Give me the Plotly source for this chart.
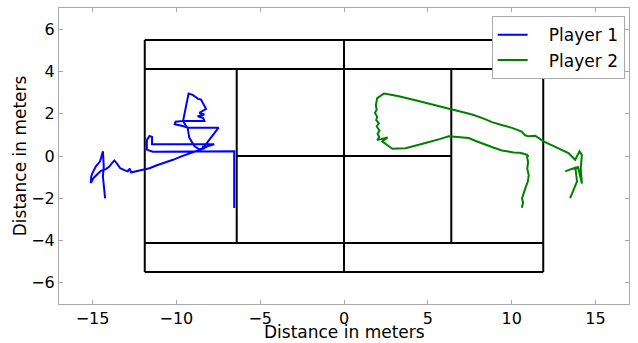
import plotly.graph_objects as go

# Court dimensions (metres)
half_length = 11.885
half_doubles = 5.485
half_singles = 4.115
service_x = 6.4

# Player 1 trajectory
p1_x = [-14.25, -14.3, -14.38, -14.33, -14.38, -14.55, -14.8, -15.0, -15.08, -15.1,
        -14.95, -14.7, -14.5, -14.2, -14.0, -13.85, -13.7, -13.55, -13.35, -13.1,
        -12.9, -12.78, -12.7, -12.4, -12.0, -11.6, -11.2, -10.7, -10.2, -9.7,
        -9.2, -8.8, -8.5, -8.3, -8.45, -8.2, -8.6,
        -8.63, -8.93, -9.23, -9.33, -9.62, -10.1, -10.05, -9.6,
        -9.45, -9.27, -9.03, -8.7, -8.53, -8.39, -8.23, -8.63, -8.33, -8.73, -8.4, -8.33,
        -9.6, -9.4, -9.33, -7.48, -7.94, -8.23, -8.4, -8.0, -7.74,
        -11.45, -11.45, -11.6, -11.76, -11.76, -11.41, -6.55, -6.55]
p1_y = [-2.0, -1.4, -0.97, -0.5, 0.22, -0.25, -0.49, -0.8, -0.97, -1.28,
        -1.05, -0.85, -0.7, -0.62, -0.5, -0.35, -0.21, -0.35, -0.58, -0.67,
        -0.72, -0.6, -0.78, -0.72, -0.65, -0.58, -0.45, -0.33, -0.18, -0.02,
        0.12, 0.22, 0.3, 0.38, 0.45, 0.42, 0.32,
        0.32, 0.47, 0.87, 1.34, 1.42, 1.5, 1.62, 1.66,
        2.3, 2.95, 2.89, 2.7, 2.67, 2.48, 2.23, 2.04, 1.96, 1.88, 1.8, 1.66,
        1.66, 1.4, 1.34, 1.34, 0.87, 0.55, 0.38, 0.5, 0.55,
        0.55, 0.9, 0.95, 0.75, 0.3, 0.2, 0.22, -2.46]

# Player 2 trajectory
p2_x = [10.61, 10.68, 10.62, 10.71, 10.85, 10.97, 11.02, 10.93, 10.98, 10.92, 10.98,
        10.91, 10.5, 10.12, 9.8, 9.42, 8.9, 8.43, 7.9, 7.44, 6.9, 6.55, 6.25, 5.7,
        5.26, 4.8, 4.46, 4.0, 3.67, 3.2, 2.88, 2.68, 2.4, 2.28, 2.6, 1.98, 2.1,
        2.0, 2.12, 1.95, 2.08, 1.92, 1.98, 1.85, 1.95, 1.9, 1.98, 2.2, 2.38, 2.8,
        3.27, 4.2, 5.06, 5.7, 6.35, 7.0, 7.64, 8.3, 8.83, 9.4, 10.02, 10.6, 10.8,
        11.01, 11.41, 11.9, 12.2, 12.5, 13.0, 13.39, 13.79, 14.05, 14.19, 14.12,
        14.19, 14.1, 13.95, 13.85, 13.6, 13.2, 13.5, 13.8, 13.9, 13.7, 13.49]
p2_y = [-2.45, -2.2, -2.0, -1.75, -1.45, -1.2, -0.9, -0.6, -0.3, -0.05, 0.0,
        0.06, 0.15, 0.17, 0.2, 0.26, 0.4, 0.53, 0.7, 0.85, 0.88, 0.9, 0.93, 0.8,
        0.72, 0.6, 0.53, 0.45, 0.37, 0.36, 0.34, 0.46, 0.6, 0.69, 0.88, 0.75, 0.9,
        1.05, 1.2, 1.41, 1.55, 1.7, 1.85, 2.04, 2.2, 2.4, 2.74, 2.88, 2.95, 2.9,
        2.83, 2.65, 2.48, 2.35, 2.19, 2.08, 1.96, 1.78, 1.6, 1.47, 1.33, 1.15, 0.98,
        0.93, 0.96, 0.69, 0.58, 0.46, 0.3, 0.14, -0.18, 0.22, 0.05, -0.6,
        -1.3, -1.0, -0.5, -0.6, -0.6, -0.73, -0.65, -0.55, -1.2, -1.6, -1.99]

x_ticks = [-15, -10, -5, 0, 5, 10, 15]
y_ticks = [-6, -4, -2, 0, 2, 4, 6]
axis_title = "Distance in meters"
names = ["Player 1", "Player 2"]

# Build court line segments from the dimensions
L, D, S, V = half_length, half_doubles, half_singles, service_x
segments = [
    ((-L, -D), (L, -D)), ((L, -D), (L, D)), ((L, D), (-L, D)), ((-L, D), (-L, -D)),
    ((-L, -S), (L, -S)), ((-L, S), (L, S)),
    ((-V, -S), (-V, S)), ((V, -S), (V, S)),
    ((-V, 0), (V, 0)),
    ((0, -D), (0, D)),
]
cx, cy = [], []
for (a, b) in segments:
    cx += [a[0], b[0], None]
    cy += [a[1], b[1], None]

pad = "\u00a0\u00a0\u00a0"
fig = go.Figure()
fig.add_trace(go.Scatter(x=cx, y=cy, mode="lines", line=dict(color="black", width=2),
                         showlegend=False, hoverinfo="skip"))
fig.add_trace(go.Scatter(x=p1_x, y=p1_y, mode="lines", name=pad + names[0],
                         line=dict(color="#0000ff", width=2)))
fig.add_trace(go.Scatter(x=p2_x, y=p2_y, mode="lines", name=pad + names[1],
                         line=dict(color="#008000", width=2)))

axis_common = dict(showgrid=False, zeroline=False, showline=True, linecolor="#aaaaaa",
                   linewidth=1, mirror="ticks", ticks="inside", ticklen=4,
                   tickcolor="#aaaaaa", tickfont=dict(size=16, color="black"),
                   automargin=False)
fig.update_xaxes(range=[-17, 17], tickvals=x_ticks, **axis_common)
fig.update_yaxes(range=[-7, 7], tickvals=y_ticks, **axis_common)

fig.add_annotation(text=axis_title, xref="paper", yref="paper", x=0.5, y=-0.132,
                   xanchor="center", yanchor="bottom", showarrow=False,
                   font=dict(size=17, color="black"), borderpad=0)
fig.add_annotation(text=axis_title, xref="paper", yref="paper", x=-0.068, y=0.5,
                   xanchor="center", yanchor="middle", showarrow=False, textangle=-90,
                   font=dict(size=17, color="black"))

fig.update_layout(
    width=638, height=343,
    margin=dict(l=59, r=9, t=8, b=39, autoexpand=False),
    paper_bgcolor="white", plot_bgcolor="white",
    font=dict(family="DejaVu Sans", color="black"),
    showlegend=True,
    legend=dict(x=0.759, y=0.972, xanchor="left", yanchor="top",
                bgcolor="white", bordercolor="#aaaaaa", borderwidth=1,
                font=dict(size=17)),
)

fig.write_html("out.html", config={"displayModeBar": False},
               post_script="document.body.style.margin='0px';document.body.style.overflow='hidden';")
